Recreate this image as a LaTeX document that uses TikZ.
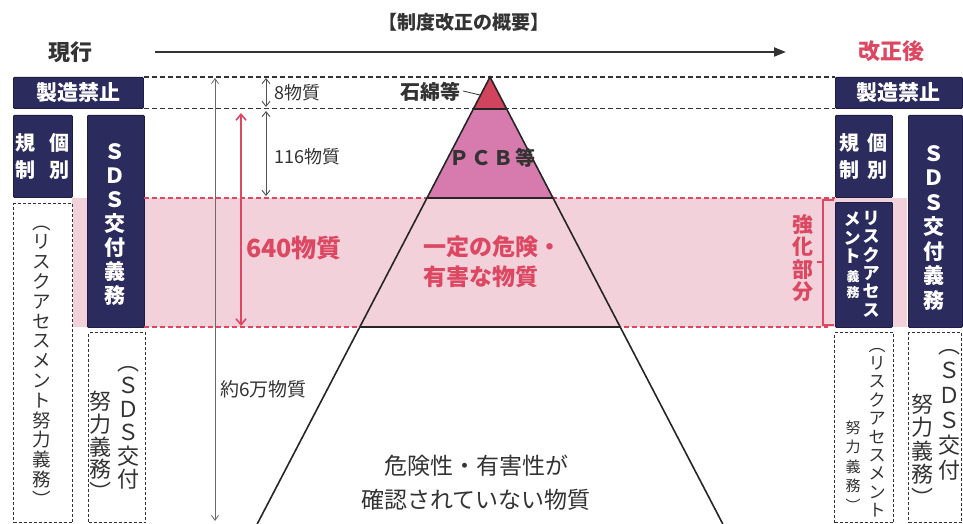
\documentclass[tikz,border=0pt]{standalone}
\usepackage{fontspec}
\setmainfont{Noto Sans CJK JP}
\usetikzlibrary{arrows.meta}
\definecolor{navy}{HTML}{2C2B5E}
\definecolor{navyedge}{HTML}{1E1D45}
\definecolor{bandpink}{HTML}{F2D1DA}
\definecolor{accent}{HTML}{DC4762}
\definecolor{topred}{HTML}{D2435E}
\definecolor{pcbpink}{HTML}{D77AAD}
\definecolor{ink}{HTML}{333333}
\definecolor{midgray}{HTML}{6A6A6A}
\newcommand{\fs}[2]{\fontsize{#1}{#2}\selectfont}
\begin{document}
\begin{tikzpicture}[x=1pt,y=-1pt,
  navybox/.style={rectangle, inner sep=0pt, anchor=north west, fill=navy, draw=navyedge, line width=0.8pt, rounded corners=1pt},
  dashbox/.style={rectangle, inner sep=0pt, anchor=north west, fill=white, draw=ink, line width=1.4pt, dash pattern=on 3pt off 2pt},
  vtext/.style={inner sep=0pt, align=center},
  wlab/.style={text=white, font=\bfseries},
  guide/.style={draw=ink, line width=1.3pt, dash pattern=on 5pt off 3pt},
  redguide/.style={draw=accent, line width=1.5pt, dash pattern=on 5pt off 3pt},
  dimgray/.style={draw=midgray, line width=0.8pt, {Straight Barb[length=5pt,width=7pt]}-{Straight Barb[length=5pt,width=7pt]}},
  dimdark/.style={draw=ink!85, line width=0.9pt, {Straight Barb[length=5pt,width=8pt]}-{Straight Barb[length=5pt,width=8pt]}},
  dimred/.style={draw=accent, line width=1.6pt, {Straight Barb[length=6pt,width=10pt]}-{Straight Barb[length=6pt,width=10pt]}},
  pyr/.style={draw=black!85, line width=1.6pt},
  plain/.style={inner sep=0pt, text=ink}
]
\useasboundingbox (0,0) rectangle (963,524);

% pink band
\fill[bandpink] (72,198) rectangle (907,327);

% boxes (left)
\node[navybox, minimum width=130pt, minimum height=31pt] (kinshiL) at (13,77) {};
\node[navybox, minimum width=59pt, minimum height=82pt] (kobetsuL) at (13,115) {};
\node[navybox, minimum width=57pt, minimum height=212pt] (sdsL) at (87,115) {};
\node[dashbox, minimum width=59pt, minimum height=319pt] (dashA) at (13,203) {};
\node[dashbox, minimum width=57pt, minimum height=190pt] (dashB) at (88,332) {};
% boxes (right)
\node[navybox, minimum width=127pt, minimum height=31pt] (kinshiR) at (835,77) {};
\node[navybox, minimum width=57pt, minimum height=82pt] (kobetsuR) at (835,115) {};
\node[navybox, minimum width=57pt, minimum height=125pt] (riskR) at (835,202) {};
\node[navybox, minimum width=54pt, minimum height=212pt] (sdsR) at (908,115) {};
\node[dashbox, minimum width=59pt, minimum height=190pt] (dashC) at (834,332) {};
\node[dashbox, minimum width=53pt, minimum height=190pt] (dashD) at (908,332) {};

% guide lines
\draw[guide] (kinshiL.north east) -- (kinshiR.north west);
\draw[guide] (kinshiL.south east) -- (kinshiR.south west);
\coordinate (rtL) at (144,198);
\coordinate (rtR) at (835,198);
\coordinate (rbL) at (144,327);
\coordinate (rbR) at (828,327);
\draw[redguide] (rtL) -- (rtR);
\draw[redguide] (rbL) -- (rbR);

% pyramid
\coordinate (apex) at (490,77);
\coordinate (l1) at (473.3,109); \coordinate (r1) at (506.7,109);
\coordinate (l2) at (426.8,198); \coordinate (r2) at (553.2,198);
\coordinate (l3) at (359.5,327); \coordinate (r3) at (620.5,327);
\coordinate (l4) at (257.2,524); \coordinate (r4) at (722.8,524);
\fill[white] (l3) -- (r3) -- (r4) -- (l4) -- cycle;
\fill[bandpink] (l2) -- (r2) -- (r3) -- (l3) -- cycle;
\fill[pcbpink] (l1) -- (r1) -- (r2) -- (l2) -- cycle;
\fill[topred] (apex) -- (r1) -- (l1) -- cycle;
\draw[pyr] (l4) -- (apex) -- (r4);
\draw[pyr] (l1) -- (r1);
\draw[pyr] (l2) -- (r2);
\draw[pyr] (l3) -- (r3);

% bracket
\coordinate (bt) at (834,200); \coordinate (bb) at (834,325);
\draw[accent, line width=1.5pt] (bt) -- (823,200) -- (823,325) -- (bb);
\draw[accent, line width=1.5pt] (823,262) -- (817,262);

% header
\node[plain, font=\fs{19}{22}\bfseries] (title) at (464,22) {【制度改正の概要】};
\node[plain, font=\fs{22}{24}\bfseries] (genko) at (70,52) {現行};
\node[inner sep=0pt, text=accent, font=\fs{22}{24}\bfseries] (kaisei) at (891,51) {改正後};
\coordinate (arrS) at (155,52);
\coordinate (arrE) at (786,52);
\draw[draw=ink, line width=2pt, -{Triangle[length=12pt,width=9pt]}] (arrS) -- (arrE);

% dimension arrows
\coordinate (d0t) at (215,78); \coordinate (d0b) at (215,521);
\draw[dimgray] (d0t) -- (d0b);
\coordinate (d1t) at (266,78); \coordinate (d1b) at (266,107);
\draw[dimdark] (d1t) -- (d1b);
\coordinate (d2t) at (266,111); \coordinate (d2b) at (266,196);
\draw[dimdark] (d2t) -- (d2b);
\coordinate (d3t) at (241,113); \coordinate (d3b) at (241,326);
\draw[dimred] (d3t) -- (d3b);

\node[plain, anchor=west, font=\fs{18}{20}] (n8) at (274,93) {8物質};
\node[plain, anchor=west, font=\fs{18}{20}] (n116) at (274,157) {116物質};
\node[plain, anchor=west, font=\fs{19}{21}] (n6man) at (220,389) {約6万物質};
\node[inner sep=0pt, anchor=west, text=accent, font=\fs{25}{27}\bfseries] (n640) at (246,248) {640物質};

% pyramid labels
\node[plain, font=\fs{20}{22}\bfseries] (ishiwata) at (430,92) {石綿等};
\draw[ink, line width=0.8pt] (ishiwata.east) ++(3,-1) -- (480,95);
\node[plain, font=\fs{20}{22}\bfseries] (pcb) at (492,158) {Ｐ\hspace{2pt}Ｃ\hspace{2pt}Ｂ\hspace{2pt}等};
\node[inner sep=0pt, anchor=west, align=left, text=accent, font=\fs{23}{30}\bfseries] (ittei) at (423,262) {一定の危険・\\有害な物質};
\node[plain, align=center, font=\fs{23}{34}] (mikakunin) at (476,483) {危険性・有害性が\\確認されていない物質};
\node[vtext, text=accent, font=\fs{21}{22.5}\bfseries] (kyoka) at (803,258) {強\\化\\部\\分};

% box labels left
\node[wlab, inner sep=0pt, font=\fs{21}{23}\bfseries] (kinshiLt) at (kinshiL.center) {製造禁止};
\node[vtext, wlab, font=\fs{20}{27}\bfseries] (kobLa) at (25,156.5) {規\\制};
\node[vtext, wlab, font=\fs{20}{27}\bfseries] (kobLb) at (59,156.5) {個\\別};
\node[vtext, wlab, font=\fs{21}{24}\bfseries] (sdsLt) at (115,225) {Ｓ\\Ｄ\\Ｓ\\交\\付\\義\\務};
\node[vtext, text=ink, font=\fs{18.5}{19.8}] (dashAt) at (42,366) {︵\\リ\\ス\\ク\\ア\\セ\\ス\\メ\\ン\\ト\\努\\力\\義\\務\\︶};
\node[vtext, text=ink, font=\fs{22}{23.5}] (dashBa) at (128,428) {︵\\Ｓ\\Ｄ\\Ｓ\\交\\付};
\node[vtext, text=ink, font=\fs{22}{22.7}] (dashBb) at (100,446) {努\\力\\義\\務\\︶};

% box labels right
\node[wlab, inner sep=0pt, font=\fs{21}{23}\bfseries] (kinshiRt) at (kinshiR.center) {製造禁止};
\node[vtext, wlab, font=\fs{20}{27}\bfseries] (kobRa) at (849,156.5) {規\\制};
\node[vtext, wlab, font=\fs{20}{27}\bfseries] (kobRb) at (877,156.5) {個\\別};
\node[vtext, wlab, font=\fs{17}{18.4}\bfseries] (riskRa) at (871,264) {リ\\ス\\ク\\ア\\セ\\ス};
\node[vtext, wlab, font=\fs{17}{18.5}\bfseries] (riskRb) at (852,238) {メ\\ン\\ト};
\node[vtext, wlab, font=\fs{13}{16}\bfseries] (riskRc) at (853,285) {義\\務};
\node[vtext, wlab, font=\fs{21}{24.5}\bfseries] (sdsRt) at (934,228) {Ｓ\\Ｄ\\Ｓ\\交\\付\\義\\務};
\node[vtext, text=ink, font=\fs{17}{18.4}] (dashCa) at (877,432.5) {︵\\リ\\ス\\ク\\ア\\セ\\ス\\メ\\ン\\ト};
\node[vtext, text=ink, font=\fs{15}{19.5}] (dashCb) at (853,466) {努\\力\\義\\務\\︶};
\node[vtext, text=ink, font=\fs{22}{25}] (dashDa) at (949,415) {︵\\Ｓ\\Ｄ\\Ｓ\\交\\付};
\node[vtext, text=ink, font=\fs{22}{23.5}] (dashDb) at (922,450) {努\\力\\義\\務\\︶};
\end{tikzpicture}
\end{document}
